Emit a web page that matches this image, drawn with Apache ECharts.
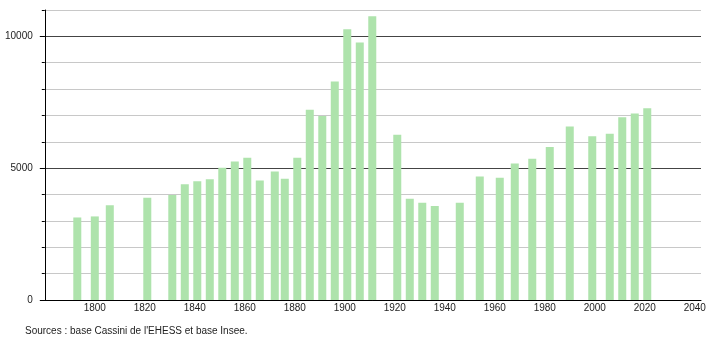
<!DOCTYPE html>
<html>
<head>
<meta charset="utf-8">
<script src="https://cdn.jsdelivr.net/npm/echarts@6/dist/echarts.min.js"></script>
<style>html,body{margin:0;padding:0;background:#fff}#c{width:710px;height:340px}</style>
</head>
<body>
<div id="c"></div>
<script>
const years = [1793,1800,1806,1821,1831,1836,1841,1846,1851,1856,1861,1866,1872,1876,1881,1886,1891,1896,1901,1906,1911,1921,1926,1931,1936,1946,1954,1962,1968,1975,1982,1990,1999,2006,2011,2016,2021];
const population = [3130,3170,3590,3880,3980,4390,4500,4580,5020,5250,5400,4530,4870,4600,5400,7220,6980,8290,10270,9770,10760,6270,3840,3690,3570,3690,4680,4640,5180,5360,5800,6580,6210,6310,6930,7070,7270];
const yLabels = [0, 5000, 10000];
const sourceText = "Sources : base Cassini de l'EHESS et base Insee.";

const font = '"Liberation Sans", Arial, sans-serif';
const chart = echarts.init(document.getElementById('c'), null, {renderer: 'canvas'});
const gridLeft = 44.8, gridRight = 9, gridTop = 10, gridBottom = 40;
const plotH = 340 - gridTop - gridBottom;
chart.setOption({
  animation: false,
  backgroundColor: '#fff',
  title: {
    text: sourceText, left: 20, top: 321,
    textStyle: {fontSize: 10, fontWeight: 'normal', color: '#222', fontFamily: font}
  },
  grid: [
    {left: gridLeft, right: gridRight, top: gridTop, bottom: gridBottom},
    {left: gridLeft, right: gridRight, top: gridTop + plotH / 11, bottom: gridBottom}
  ],
  xAxis: [{
    type: 'value', gridIndex: 0, min: 1780, max: 2042.5, interval: 20,
    axisLine: {show: true, lineStyle: {color: '#000', width: 1}},
    axisTick: {show: false},
    splitLine: {show: false},
    axisLabel: {
      margin: 3, fontSize: 10, color: '#222', fontFamily: font,
      showMinLabel: false, showMaxLabel: false,
      formatter: v => (v % 20 === 0 && v > 1780) ? String(v) : ''
    }
  }, {
    type: 'value', gridIndex: 1, min: 0, max: 1, show: false
  }],
  yAxis: [{
    type: 'value', gridIndex: 0, min: 0, max: 11000, interval: 1000,
    axisLine: {show: true, lineStyle: {color: '#000', width: 1}},
    axisTick: {show: true, length: 3, lineStyle: {color: '#000'}},
    splitLine: {show: true, lineStyle: {color: ['#444','#c8c8c8','#c8c8c8','#c8c8c8','#c8c8c8'], width: 1}},
    axisLabel: {
      margin: 12, fontSize: 10, color: '#222', fontFamily: font,
      formatter: v => yLabels.indexOf(v) >= 0 ? String(v) : ''
    }
  }, {
    type: 'value', gridIndex: 1, min: 0, max: 10000, interval: 5000,
    axisLine: {show: false},
    axisTick: {show: true, length: 5, lineStyle: {color: '#000'}},
    splitLine: {show: false},
    axisLabel: {show: false}
  }],
  series: [{
    type: 'bar',
    xAxisIndex: 0, yAxisIndex: 0,
    barWidth: 8,
    itemStyle: {color: '#aee3ac'},
    data: years.map((y, i) => [y, population[i]])
  }]
});
</script>
</body>
</html>
